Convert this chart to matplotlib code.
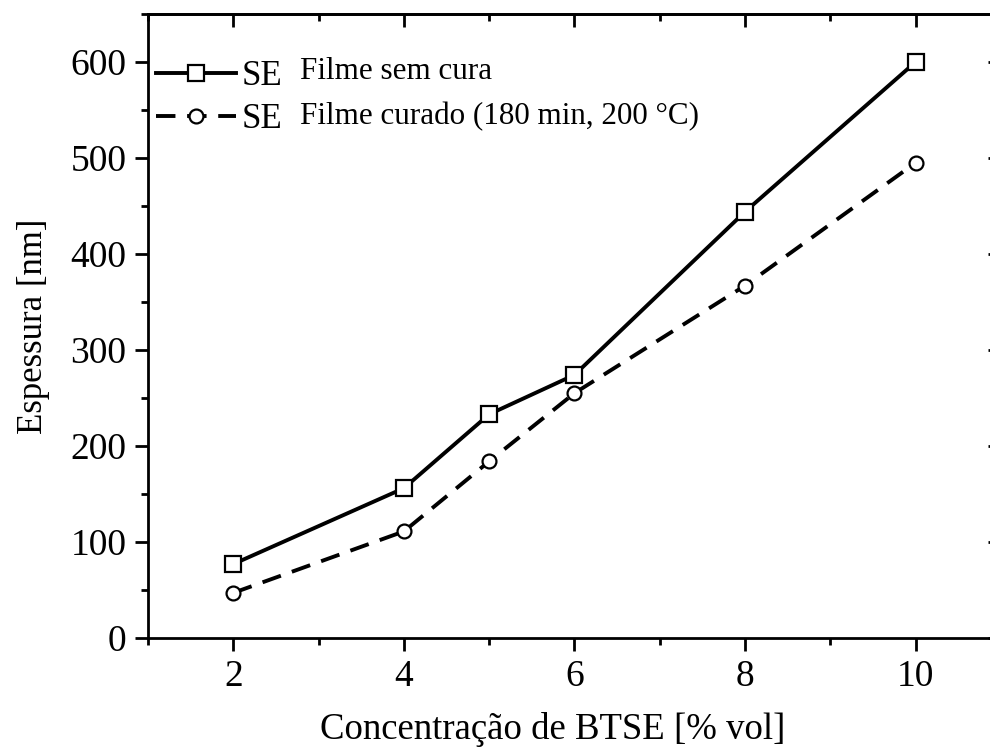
import numpy as np
import matplotlib.pyplot as plt
from matplotlib.ticker import MultipleLocator

plt.rcParams.update({
    "font.family": ['Liberation Serif', 'DejaVu Serif'],
    "font.size": 22,
    "mathtext.fontset": 'stix',
})

# concentração de BTSE [% vol]
conc = [2, 4, 5, 6, 8, 10]
# espessura [nm]
sem_cura = [77, 156, 233, 274, 444, 600]
curado = [47, 111, 184, 255, 367, 495]

labels = ['SE', 'SE']
descricao = ['Filme sem cura', 'Filme curado (180 min, 200 °C)']
xticks = [2, 4, 6, 8, 10]


def set_ticks(axis, major, minor):
    axis.set_major_locator(MultipleLocator(major))
    axis.set_minor_locator(MultipleLocator(minor))


def espessura_fig():
    fig = plt.figure(figsize=(9.9, 7.51), dpi=100)
    ax = fig.add_axes([0.1495, 0.1505, 0.8616, 0.831])

    ax.plot(conc, sem_cura, color='black', linestyle='solid', linewidth=2.8,
            marker='s', markersize=11, markerfacecolor='white',
            markeredgecolor='black', markeredgewidth=1.6, label=labels[0])
    ax.plot(conc, curado, color='black', linestyle=(0, (5, 3)), linewidth=2.8,
            marker='o', markersize=10, markerfacecolor='white',
            markeredgecolor='black', markeredgewidth=1.6, label=labels[1])

    ax.set_xlim(1, 11)
    ax.set_ylim(0, 650)
    ax.set_xticks(xticks)
    ax.xaxis.set_minor_locator(MultipleLocator(1))
    set_ticks(ax.yaxis, 100, 50)

    for s in ax.spines.values():
        s.set_linewidth(2)
    ax.tick_params(axis='both', which='major', length=9.5, width=2, labelsize=27, pad=6)
    ax.tick_params(axis='both', which='minor', length=5, width=2)
    ax.tick_params(direction='out', which='both', top=False, right=False)

    # top/right ticks point inward
    top = ax.secondary_xaxis('top')
    top.set_xticks(xticks)
    top.xaxis.set_minor_locator(MultipleLocator(1))
    top.set_xticklabels([])
    right = ax.secondary_yaxis('right')
    set_ticks(right.yaxis, 100, 50)
    right.set_yticklabels([])
    for sec in (top, right):
        sec.tick_params(which='both', direction='in', width=2)
        sec.tick_params(which='major', length=9.5)
        sec.tick_params(which='minor', length=5)
        for s in sec.spines.values():
            s.set_linewidth(2)

    ax.set_xlabel('Concentração de BTSE [% vol]', fontsize=26.5)
    ax.xaxis.set_label_coords(0.474, -0.119)
    ax.set_ylabel('Espessura [nm]', fontsize=25, labelpad=15)

    ax.legend(loc='upper left', bbox_to_anchor=(-0.015, 0.96), frameon=False,
              handlelength=2.3, handletextpad=0.17, labelspacing=0.3,
              fontsize=25, borderaxespad=0.2)
    ax.text(0.178, 0.907, descricao[0], transform=ax.transAxes, fontsize=22.4, va='center')
    ax.text(0.178, 0.835, descricao[1], transform=ax.transAxes, fontsize=22.4, va='center')

    plt.savefig('out.png', dpi=100)


if __name__ == '__main__':
    espessura_fig()
